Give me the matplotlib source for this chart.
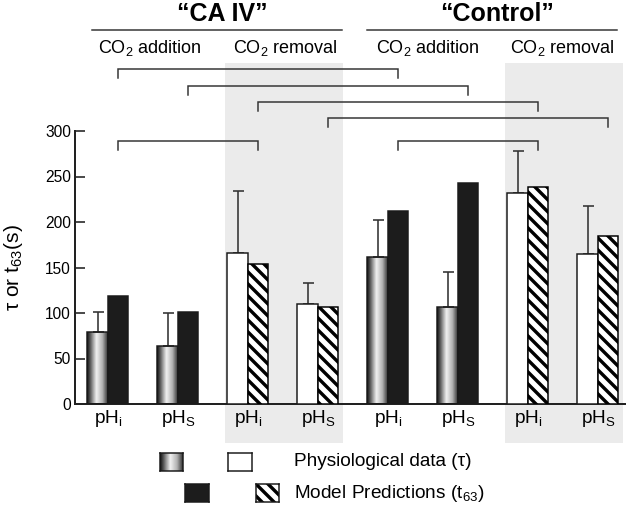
import numpy as np
import matplotlib
matplotlib.use("Agg")
import matplotlib.pyplot as plt
from matplotlib.patches import Rectangle
from matplotlib.colors import LinearSegmentedColormap
import matplotlib.transforms as mtransforms

plt.rcParams['font.family'] = ['Liberation Sans', 'DejaVu Sans']
plt.rcParams['mathtext.fontset'] = 'custom'
plt.rcParams['mathtext.rm'] = 'Liberation Sans'
plt.rcParams['mathtext.it'] = 'Liberation Sans:italic'
plt.rcParams['mathtext.default'] = 'regular'
plt.rcParams['hatch.linewidth'] = 3.4

# ---------------- data ----------------
tick_labels = ["pH$_\\mathrm{i}$", "pH$_\\mathrm{S}$"] * 4
phys_values = [79, 64, 166, 110, 162, 107, 232, 165]       # tau (physiological)
phys_err = [22, 36, 68, 23, 40, 38, 46, 53]                # upper SD
model_values = [119, 101, 154, 107, 212, 243, 239, 185]    # t63 (model)
is_removal = [False, False, True, True, False, False, True, True]
groups = ["\u201cCA IV\u201d", "\u201cControl\u201d"]
conditions = ["CO$_2$ addition", "CO$_2$ removal"] * 2
# comparison brackets: (from group, to group, level)
brackets = [(0, 4, 368), (1, 5, 349), (2, 6, 332), (3, 7, 314), (0, 2, 289), (4, 6, 289)]

W, H = 633, 509
DPI = 72
fig = plt.figure(figsize=(W / DPI, H / DPI), dpi=DPI)
ax = fig.add_axes([75 / W, 1 - 404 / H, 550 / W, 273 / H])
ax.set_facecolor('none')

x = np.arange(len(phys_values))
bw = 0.293
XL = (-0.471, 7.386)
YL = (0, 300)

grad_cmap = LinearSegmentedColormap.from_list(
    'cyl', [(0, '#111111'), (0.12, '#4a4a4a'), (0.45, '#f2f2f2'), (0.75, '#b0b0b0'), (1, '#333333')])
grad = np.linspace(0, 1, 64).reshape(1, -1)

edge = '#1a1a1a'
for i in range(len(x)):
    # physiological bar
    if is_removal[i]:
        ax.bar(x[i] - bw / 2, phys_values[i], bw, color='white', edgecolor=edge, lw=1.5, zorder=3)
    else:
        b = ax.bar(x[i] - bw / 2, phys_values[i], bw, color='none', edgecolor=edge, lw=1.5, zorder=3)[0]
        im = ax.imshow(grad, extent=[b.get_x(), b.get_x() + b.get_width(), 0, b.get_height()],
                       aspect='auto', cmap=grad_cmap, zorder=2, interpolation='bilinear')
        im.set_clip_path(b)
    # model bar
    if is_removal[i]:
        ax.bar(x[i] + bw / 2, model_values[i], bw, color='white', edgecolor='black',
               hatch='\\\\', lw=1.5, zorder=3)
    else:
        ax.bar(x[i] + bw / 2, model_values[i], bw, color='#1c1c1c', edgecolor=edge, lw=1.5, zorder=3)

ax.errorbar(x - bw / 2, phys_values, yerr=[np.zeros(len(x)), phys_err], fmt='none',
            ecolor='#333333', elinewidth=1.6, capsize=5.5, capthick=1.6, zorder=2.5)

ax.set_xlim(*XL)
ax.set_ylim(*YL)
ax.set_yticks(np.arange(0, 301, 50))
ax.set_xticks(x)
ax.set_xticklabels(tick_labels, fontsize=19)
ax.tick_params(axis='x', length=0, pad=4)
ax.tick_params(axis='y', direction='in', length=10, width=1.6, labelsize=15.5, pad=4, color='#222222')
for s in ['top', 'right']:
    ax.spines[s].set_visible(False)
for s in ['left', 'bottom']:
    ax.spines[s].set_linewidth(2.0)
    ax.spines[s].set_color('#222222')
ax.set_ylabel("\u03c4 or t$_{63}$(s)", fontsize=21)
ax.yaxis.set_label_coords(-0.09, 0.5)

# shaded CO2 removal regions
trans = mtransforms.blended_transform_factory(ax.transData, ax.transAxes)
for g in [2, 6]:
    ax.add_patch(Rectangle((g - 0.33, -0.143), 1.69, 1.392, transform=trans,
                           facecolor='#ebebeb', edgecolor='none', clip_on=False, zorder=0))

# brackets
for a, b, lvl in brackets:
    xa, xb = x[a] + bw / 2, x[b] + bw / 2
    ax.plot([xa, xa, xb, xb], [lvl - 9.5, lvl, lvl, lvl - 9.5], color='#333333', lw=1.5,
            clip_on=False, zorder=4, solid_joinstyle='miter')

# headers
def fx(px):
    return px / W

def fy(py):
    return 1 - py / H

header_x = [(92, 342), (367, 617)]
for (x0, x1), name in zip(header_x, groups):
    fig.text(fx((x0 + x1) / 2 + 5), fy(14), name, ha='center', va='center',
             fontsize=25, fontweight='bold')
    fig.add_artist(plt.Line2D([fx(x0), fx(x1)], [fy(30), fy(30)], color='#333333', lw=1.5))
cond_x = [150, 285, 428, 562]
for cx, c in zip(cond_x, conditions):
    fig.text(fx(cx), fy(48), c, ha='center', va='center', fontsize=18)

# legend
def swatch(x0, y0, x1, y1):
    a = fig.add_axes([fx(x0), fy(y1), (x1 - x0) / W, (y1 - y0) / H])
    a.set_xlim(0, 1)
    a.set_ylim(0, 1)
    a.set_xticks([])
    a.set_yticks([])
    for s in a.spines.values():
        s.set_linewidth(1.5)
        s.set_color('#1a1a1a')
    return a

s1 = swatch(160, 453, 183, 471)
s1.imshow(grad, extent=[0, 1, 0, 1], aspect='auto', cmap=grad_cmap, interpolation='bilinear')
s2 = swatch(228, 453, 252, 471)
s2.set_facecolor('white')
s3 = swatch(185, 484, 209, 502)
s3.set_facecolor('#1c1c1c')
s4 = swatch(256, 484, 279, 502)
s4.add_patch(Rectangle((0, 0), 1, 1, facecolor='white', edgecolor='black', hatch='\\\\', lw=0))
fig.text(fx(294), fy(462), "Physiological data (\u03c4)", ha='left', va='center', fontsize=19)
fig.text(fx(294), fy(493), "Model Predictions (t$_{63}$)", ha='left', va='center', fontsize=19)

fig.savefig("out.png", dpi=DPI)
